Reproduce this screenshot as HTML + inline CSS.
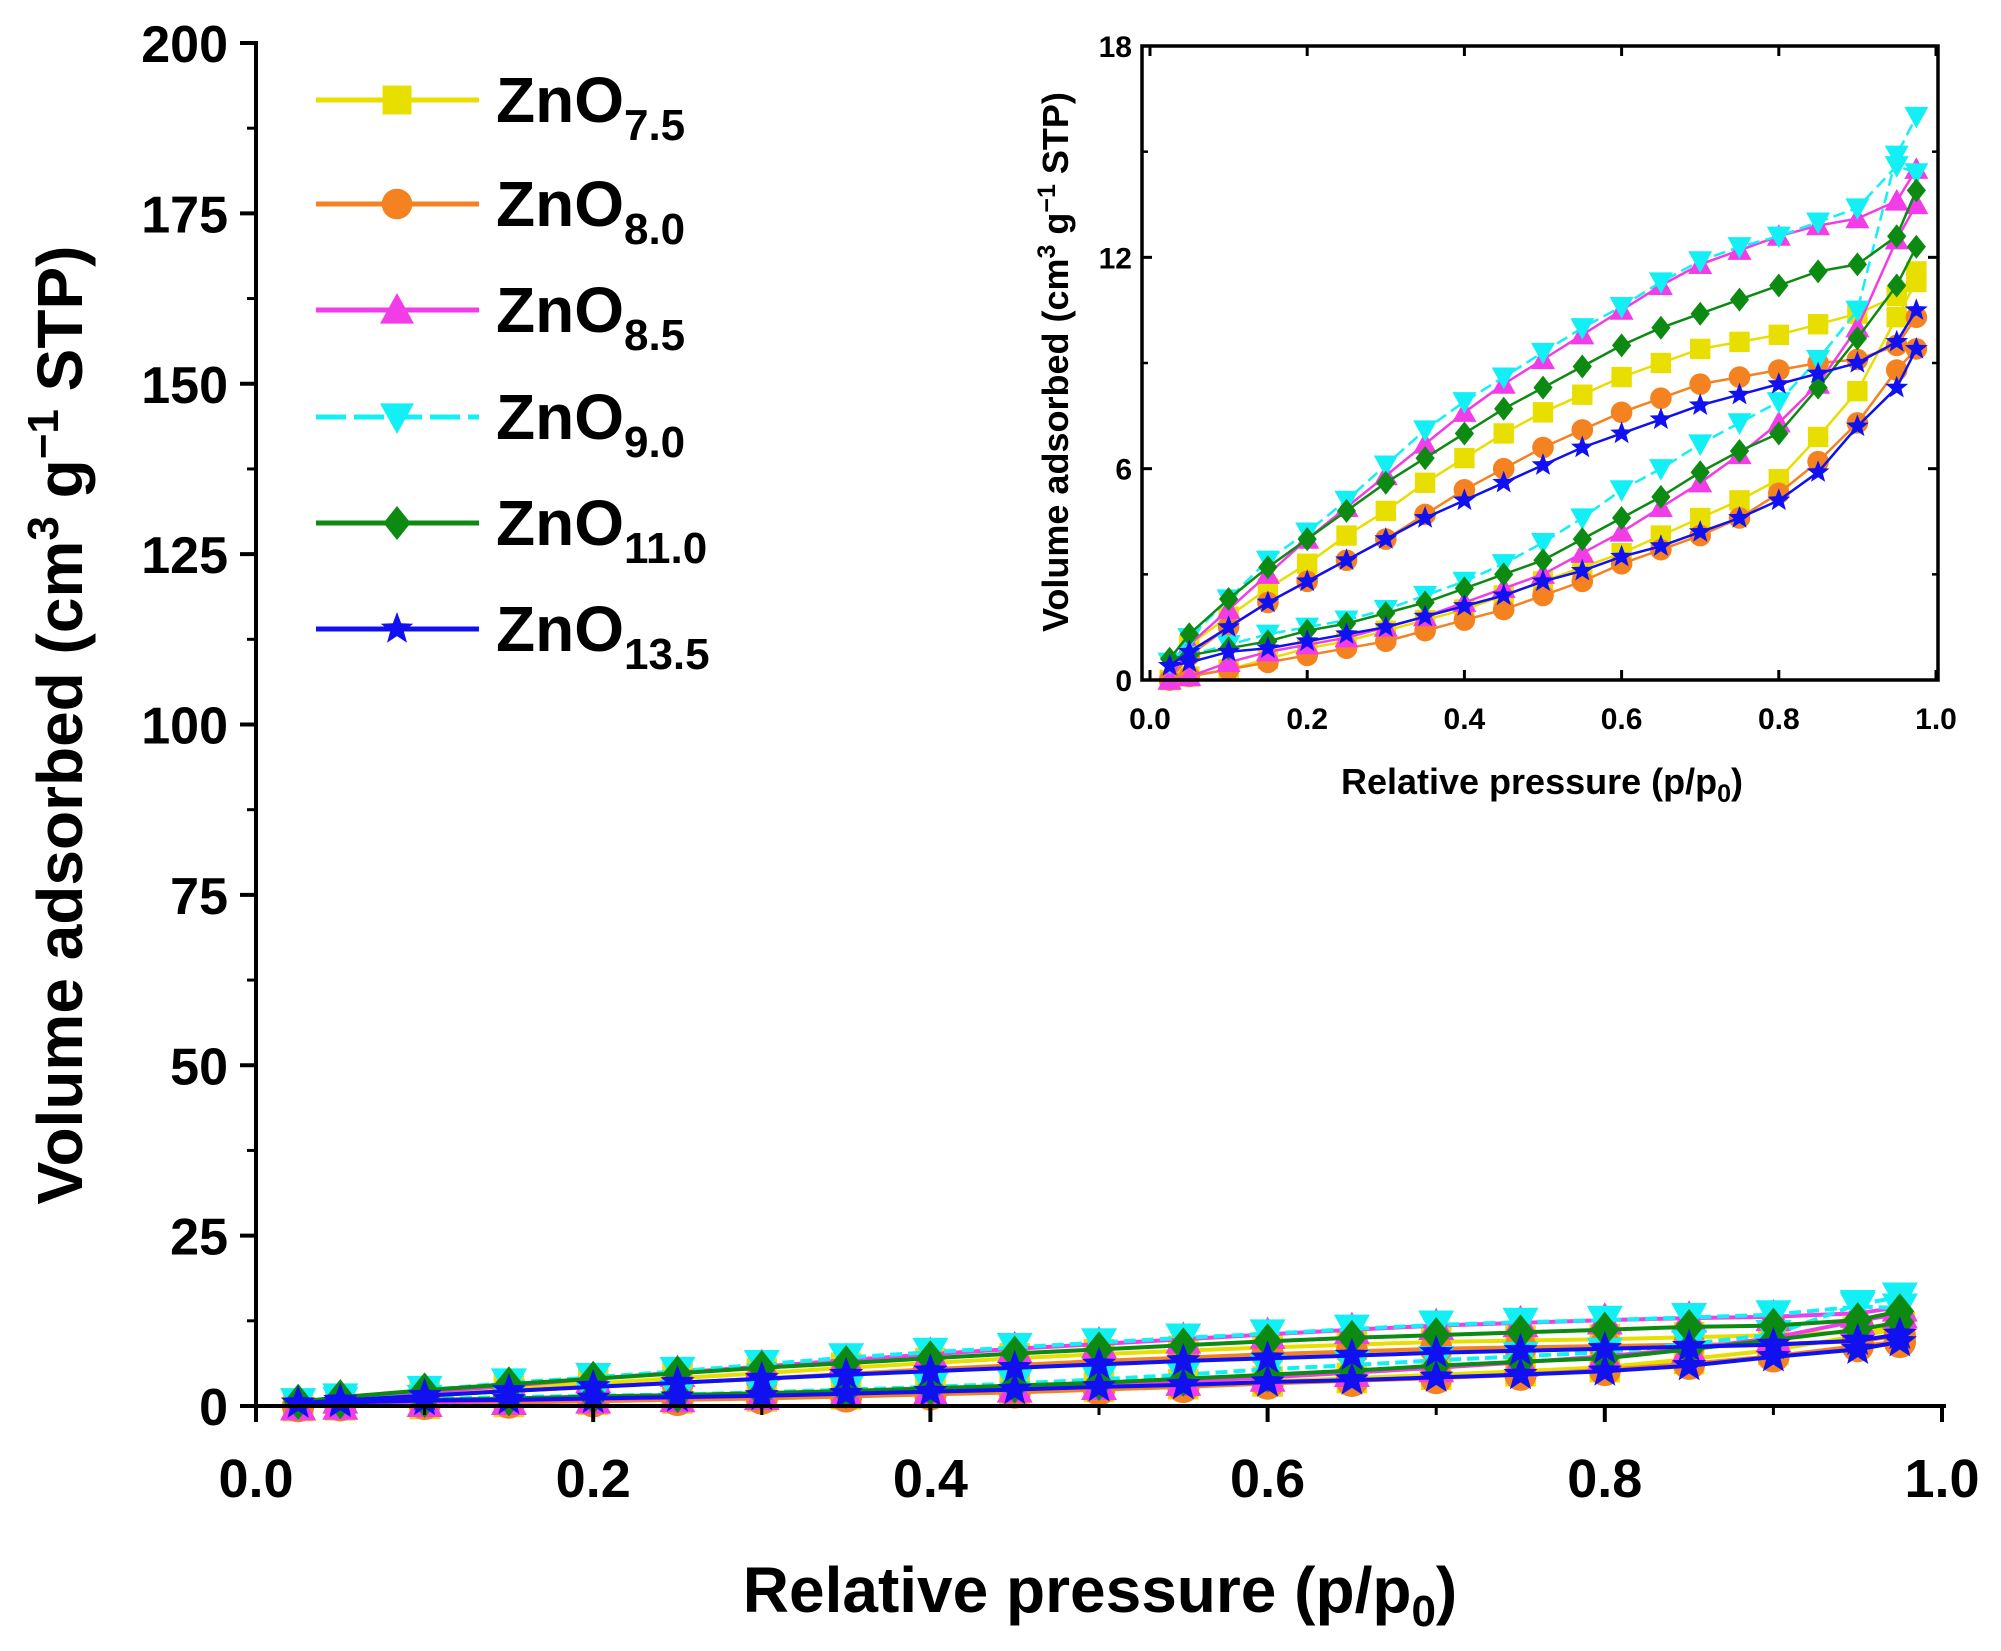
<!DOCTYPE html>
<html><head><meta charset="utf-8"><style>
html,body{margin:0;padding:0;background:#fff}
svg{display:block;font-family:"Liberation Sans",Arial,sans-serif;font-weight:bold}
</style></head><body>
<svg id="chart" width="2001" height="1651" viewBox="0 0 2001 1651" xmlns="http://www.w3.org/2000/svg">
<g id="main"></g>
<g id="inset"></g>
<g id="legend"></g>
</svg>
<script>
const xVals=[0.025,0.05,0.1,0.15,0.2,0.25,0.3,0.35,0.4,0.45,0.5,0.55,0.6,0.65,0.7,0.75,0.8,0.85,0.9,0.95,0.975];
const seriesNames=["ZnO7.5","ZnO8.0","ZnO8.5","ZnO9.0","ZnO11.0","ZnO13.5"];
const ads75=[0.0,0.1,0.3,0.6,0.9,1.1,1.4,1.7,2.0,2.4,2.8,3.2,3.6,4.1,4.6,5.1,5.7,6.9,8.2,10.3,11.3];
const des75=[0.0,1.0,1.8,2.6,3.3,4.1,4.8,5.6,6.3,7.0,7.6,8.1,8.6,9.0,9.4,9.6,9.8,10.1,10.4,10.9,11.6];
const ads80=[0.0,0.1,0.3,0.5,0.7,0.9,1.1,1.4,1.7,2.0,2.4,2.8,3.3,3.7,4.1,4.6,5.3,6.2,7.3,8.8,9.4];
const des80=[0.0,0.7,1.5,2.2,2.8,3.4,4.0,4.7,5.4,6.0,6.6,7.1,7.6,8.0,8.4,8.6,8.8,9.0,9.1,9.5,10.3];
const ads85=[0.0,0.1,0.5,0.8,1.0,1.2,1.5,1.8,2.2,2.6,3.0,3.6,4.2,4.9,5.6,6.4,7.3,8.4,10.0,12.5,13.5];
const des85=[0.0,1.0,2.0,3.0,4.0,4.9,5.8,6.7,7.6,8.4,9.1,9.8,10.5,11.2,11.8,12.2,12.6,12.9,13.1,13.6,14.5];
const ads90=[0.5,0.7,1.0,1.3,1.5,1.7,2.0,2.4,2.8,3.3,3.9,4.6,5.4,6.0,6.7,7.3,7.9,9.1,10.5,14.9,16.0];
const des90=[0.5,1.2,2.3,3.4,4.2,5.1,6.1,7.1,7.9,8.6,9.3,10.0,10.6,11.3,11.9,12.3,12.6,13.0,13.4,14.6,14.4];
const ads110=[0.6,0.7,0.9,1.1,1.4,1.6,1.9,2.2,2.6,3.0,3.4,4.0,4.6,5.2,5.9,6.5,7.0,8.3,9.7,11.2,12.3];
const des110=[0.6,1.3,2.3,3.2,4.0,4.8,5.6,6.3,7.0,7.7,8.3,8.9,9.5,10.0,10.4,10.8,11.2,11.6,11.8,12.6,13.9];
const ads135=[0.4,0.5,0.8,0.9,1.1,1.3,1.5,1.8,2.1,2.4,2.8,3.1,3.5,3.8,4.2,4.6,5.1,5.9,7.2,8.3,9.4];
const des135=[0.4,0.8,1.5,2.2,2.8,3.4,4.0,4.6,5.1,5.6,6.1,6.6,7.0,7.4,7.8,8.1,8.4,8.7,9.0,9.6,10.5];
const mainYTicks=[0,25,50,75,100,125,150,175,200];
const insetYTicks=[0,6,12,18];
const xTicks=[0,0.2,0.4,0.6,0.8,1.0];

const NS="http://www.w3.org/2000/svg";
function mk(parent,tag,attrs,text){const e=document.createElementNS(NS,tag);for(const k in attrs)e.setAttribute(k,attrs[k]);if(text!==undefined)e.textContent=text;parent.appendChild(e);return e;}
const styles=[
 {name:"zno-7-5",color:"#e8de00",stroke:"#e8de00",shape:"square",ads:ads75,des:des75,dash:null,sub:"7.5"},
 {name:"zno-8-0",color:"#f58220",stroke:"#f58220",shape:"circle",ads:ads80,des:des80,dash:null,sub:"8.0"},
 {name:"zno-8-5",color:"#f23ce8",stroke:"#f23ce8",shape:"tri",ads:ads85,des:des85,dash:null,sub:"8.5"},
 {name:"zno-9-0",color:"#12f0f5",stroke:"#12f0f5",shape:"tridown",ads:ads90,des:des90,dash:"12,6",sub:"9.0"},
 {name:"zno-11-0",color:"#0c8a12",stroke:"#0c8a12",shape:"diamond",ads:ads110,des:des110,dash:null,sub:"11.0"},
 {name:"zno-13-5",color:"#1010f0",stroke:"#1010f0",shape:"star",ads:ads135,des:des135,dash:null,sub:"13.5"}
];
function marker(g,shape,cx,cy,s,color){
 let e;const h=s/2;
 if(shape==="square")e=mk(g,"rect",{x:cx-h*0.85,y:cy-h*0.85,width:s*0.85,height:s*0.85,fill:color});
 else if(shape==="circle"){e=mk(g,"circle",{cx:cx,cy:cy,r:h*0.9,fill:color});}
 else if(shape==="tri")e=mk(g,"polygon",{points:`${cx},${cy-h} ${cx+h},${cy+h*0.8} ${cx-h},${cy+h*0.8}`,fill:color});
 else if(shape==="tridown")e=mk(g,"polygon",{points:`${cx},${cy+h} ${cx+h},${cy-h*0.8} ${cx-h},${cy-h*0.8}`,fill:color});
 else if(shape==="diamond")e=mk(g,"polygon",{points:`${cx},${cy-h} ${cx+h*0.8},${cy} ${cx},${cy+h} ${cx-h*0.8},${cy}`,fill:color});
 else {let p=[];for(let i=0;i<10;i++){const r=i%2?h*0.42:h;const a=-Math.PI/2+i*Math.PI/5;p.push((cx+r*Math.cos(a)).toFixed(1)+","+(cy+r*Math.sin(a)).toFixed(1));}e=mk(g,"polygon",{points:p.join(" "),fill:color});}
 
 
}
function drawSeries(g,sx,sy,ms,lw){
 styles.forEach(st=>{
  const sg=mk(g,"g",{});
  
  
  [st.ads,st.des].forEach((arr,bi)=>{
   const pts=xVals.map((x,i)=>sx(x).toFixed(1)+","+sy(arr[i]).toFixed(1)).join(" ");
   const pl=mk(sg,"polyline",{points:pts,fill:"none",stroke:st.stroke,"stroke-width":lw});
   if(st.dash)pl.setAttribute("stroke-dasharray",st.dash);
   
   
   xVals.forEach((x,i)=>marker(sg,st.shape,sx(x),sy(arr[i]),ms,st.color));
  });
 });
}
// MAIN
const M={x0:256,x1:1942,y0:1406,y1:43};
const msx=v=>M.x0+(M.x1-M.x0)*v, msy=v=>M.y0-(M.y0-M.y1)*v/200;
const mg=document.getElementById("main");
drawSeries(mg,msx,msy,36,4);
mk(mg,"line",{x1:M.x0,y1:M.y1-2,x2:M.x0,y2:M.y0+2,stroke:"#000","stroke-width":4});
mk(mg,"line",{x1:M.x0-2,y1:M.y0,x2:M.x1+4,y2:M.y0,stroke:"#000","stroke-width":4});
mainYTicks.forEach((v,i)=>{
 const y=msy(v);
 mk(mg,"line",{x1:M.x0-16,y1:y,x2:M.x0,y2:y,stroke:"#000","stroke-width":4});
 if(i<mainYTicks.length-1)mk(mg,"line",{x1:M.x0-9,y1:msy(v+12.5),x2:M.x0,y2:msy(v+12.5),stroke:"#000","stroke-width":3});
 const t=mk(mg,"text",{x:M.x0-28,y:y+19,"text-anchor":"end","font-size":52},v);
 
 
});
xTicks.forEach((v,i)=>{
 const x=msx(v);
 mk(mg,"line",{x1:x,y1:M.y0,x2:x,y2:M.y0+16,stroke:"#000","stroke-width":4});
 if(i<xTicks.length-1)mk(mg,"line",{x1:msx(v+0.1),y1:M.y0,x2:msx(v+0.1),y2:M.y0+9,stroke:"#000","stroke-width":3});
 const t=mk(mg,"text",{x:x,y:1497,"text-anchor":"middle","font-size":54},v.toFixed(1));
 
 
});
const xt=mk(mg,"text",{x:1100,y:1612,"text-anchor":"middle","font-size":64});
xt.innerHTML='Relative pressure (p/p<tspan font-size="44" dy="14">0</tspan><tspan dy="-14">)</tspan>';


const yt=mk(mg,"text",{x:0,y:0,"text-anchor":"middle","font-size":64,transform:"translate(82,725) rotate(-90)"});
yt.innerHTML='Volume adsorbed (cm<tspan font-size="44" dy="-24">3</tspan><tspan dy="24"> g</tspan><tspan font-size="44" dy="-24">−1</tspan><tspan dy="24"> STP)</tspan>';


// INSET
const I={x0:1150,x1:1936,y0:680,y1:46,fl:1142,fr:1938};
const isx=v=>I.x0+(I.x1-I.x0)*v, isy=v=>I.y0-(I.y0-I.y1)*v/18;
const ig=document.getElementById("inset");
drawSeries(ig,isx,isy,24,2.5);
mk(ig,"rect",{x:I.fl,y:I.y1,width:I.fr-I.fl,height:I.y0-I.y1,fill:"none",stroke:"#000","stroke-width":3.5});
insetYTicks.forEach((v,i)=>{
 const y=isy(v);
 mk(ig,"line",{x1:I.fl,y1:y,x2:I.fl+10,y2:y,stroke:"#000","stroke-width":3});
 mk(ig,"line",{x1:I.fr-10,y1:y,x2:I.fr,y2:y,stroke:"#000","stroke-width":3});
 if(i<insetYTicks.length-1){mk(ig,"line",{x1:I.fl,y1:isy(v+3),x2:I.fl+6,y2:isy(v+3),stroke:"#000","stroke-width":2.5});mk(ig,"line",{x1:I.fr-6,y1:isy(v+3),x2:I.fr,y2:isy(v+3),stroke:"#000","stroke-width":2.5});}
 const t=mk(ig,"text",{x:I.fl-10,y:y+11,"text-anchor":"end","font-size":30},v);
 
 
});
xTicks.forEach((v,i)=>{
 const x=isx(v);
 mk(ig,"line",{x1:x,y1:I.y0,x2:x,y2:I.y0-10,stroke:"#000","stroke-width":3});
 mk(ig,"line",{x1:x,y1:I.y1,x2:x,y2:I.y1+10,stroke:"#000","stroke-width":3});
 const t=mk(ig,"text",{x:x,y:729,"text-anchor":"middle","font-size":30},v.toFixed(1));
 
 
});
const ixt=mk(ig,"text",{x:1542,y:794,"text-anchor":"middle","font-size":36});
ixt.innerHTML='Relative pressure (p/p<tspan font-size="25" dy="8">0</tspan><tspan dy="-8">)</tspan>';


const iyt=mk(ig,"text",{x:0,y:0,"text-anchor":"middle","font-size":36,transform:"translate(1068,362) rotate(-90)"});
iyt.innerHTML='Volume adsorbed (cm<tspan font-size="25" dy="-13">3</tspan><tspan dy="13"> g</tspan><tspan font-size="25" dy="-13">−1</tspan><tspan dy="13"> STP)</tspan>';


// LEGEND
const lg=document.getElementById("legend");
const legY=[100,204,310,417,523,629];
styles.forEach((st,i)=>{
 const g=mk(lg,"g",{});
 
 
 const ln=mk(g,"line",{x1:316,y1:legY[i],x2:479,y2:legY[i],stroke:st.stroke,"stroke-width":5});
 if(st.dash)ln.setAttribute("stroke-dasharray","30,8");
 marker(g,st.shape,397,legY[i],34,st.color);
 const t=mk(g,"text",{x:496,y:legY[i]+22,"font-size":64});
 t.innerHTML='ZnO<tspan font-size="44" dy="18">'+st.sub+'</tspan>';
});
</script>
</body></html>
